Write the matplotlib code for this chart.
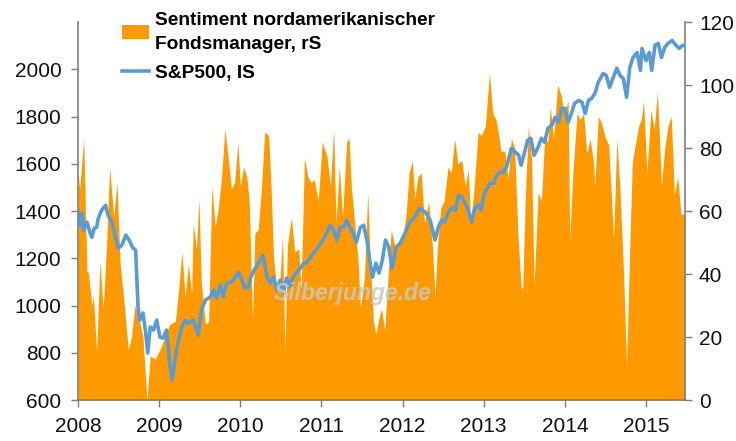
import matplotlib
matplotlib.use("Agg")
import matplotlib.pyplot as plt
from matplotlib.patches import Patch
from matplotlib.lines import Line2D

plt.rcParams['font.family'] = ['Liberation Sans', 'DejaVu Sans']

# Sentiment nordamerikanischer Fondsmanager (rechte Skala), Datum als Dezimaljahr
sent_dates = [
    2008.00, 2008.02, 2008.07, 2008.11, 2008.13, 2008.17, 2008.19, 2008.23, 2008.27, 2008.31,
    2008.35, 2008.39, 2008.44, 2008.48, 2008.52, 2008.56, 2008.62, 2008.66, 2008.70, 2008.76,
    2008.80, 2008.85, 2008.89, 2008.95, 2009.01, 2009.07, 2009.13, 2009.20, 2009.24, 2009.28,
    2009.32, 2009.36, 2009.40, 2009.42, 2009.46, 2009.49, 2009.52, 2009.57, 2009.61, 2009.65,
    2009.69, 2009.73, 2009.77, 2009.81, 2009.85, 2009.89, 2009.93, 2009.97, 2010.00, 2010.04,
    2010.08, 2010.11, 2010.15, 2010.18, 2010.22, 2010.26, 2010.30, 2010.35, 2010.38, 2010.41,
    2010.45, 2010.49, 2010.52, 2010.55, 2010.58, 2010.63, 2010.67, 2010.72, 2010.75, 2010.79,
    2010.83, 2010.87, 2010.91, 2010.96, 2011.01, 2011.07, 2011.11, 2011.15, 2011.18, 2011.22,
    2011.26, 2011.31, 2011.34, 2011.37, 2011.41, 2011.45, 2011.48, 2011.53, 2011.57, 2011.60,
    2011.64, 2011.67, 2011.71, 2011.74, 2011.78, 2011.82, 2011.86, 2011.91, 2011.96, 2012.00,
    2012.04, 2012.08, 2012.12, 2012.15, 2012.19, 2012.23, 2012.27, 2012.32, 2012.36, 2012.40,
    2012.43, 2012.47, 2012.51, 2012.56, 2012.60, 2012.64, 2012.68, 2012.73, 2012.77, 2012.81,
    2012.84, 2012.88, 2012.93, 2012.97, 2013.02, 2013.07, 2013.11, 2013.15, 2013.18, 2013.21,
    2013.26, 2013.30, 2013.34, 2013.38, 2013.42, 2013.46, 2013.48, 2013.51, 2013.55, 2013.59,
    2013.62, 2013.67, 2013.71, 2013.75, 2013.79, 2013.82, 2013.86, 2013.91, 2013.95, 2013.99,
    2014.04, 2014.06, 2014.10, 2014.15, 2014.19, 2014.23, 2014.27, 2014.31, 2014.35, 2014.37,
    2014.41, 2014.45, 2014.50, 2014.54, 2014.60, 2014.64, 2014.68, 2014.72, 2014.76, 2014.80,
    2014.83, 2014.86, 2014.91, 2014.94, 2014.97, 2015.01, 2015.06, 2015.10, 2015.14, 2015.19,
    2015.23, 2015.27, 2015.31, 2015.35, 2015.39, 2015.43, 2015.48,
]
sent_vals = [
    73, 67, 83, 41, 40, 30, 33, 15, 44, 29,
    48, 74, 58, 69, 43, 33, 16, 20, 30, 25,
    20, 0, 14, 13, 16, 20, 24, 25, 35, 47,
    33, 43, 34, 56, 48, 64, 37, 24, 25, 68,
    55, 61, 71, 86, 77, 67, 69, 82, 68, 74,
    71, 63, 25, 53, 54, 67, 85, 84, 67, 45,
    35, 39, 52, 16, 49, 58, 47, 48, 35, 77,
    71, 69, 70, 63, 82, 77, 68, 86, 56, 74,
    58, 82, 83, 67, 56, 45, 29, 39, 66, 45,
    25, 21, 26, 29, 22, 39, 54, 48, 50, 52,
    58, 72, 76, 64, 71, 72, 56, 63, 52, 33,
    49, 61, 63, 74, 72, 83, 75, 76, 68, 73,
    56, 67, 85, 84, 87, 104, 91, 89, 85, 79,
    79, 70, 83, 80, 53, 36, 35, 63, 87, 76,
    36, 66, 63, 83, 82, 93, 83, 100, 97, 91,
    95, 51, 73, 91, 89, 91, 78, 83, 76, 68,
    90, 88, 83, 81, 51, 83, 66, 42, 11, 49,
    75, 80, 87, 89, 95, 72, 92, 86, 98, 68,
    80, 87, 90, 65, 71, 59, 59,
]

# S&P 500 (linke Skala)
spx_dates = [
    2008.00, 2008.02, 2008.05, 2008.07, 2008.11, 2008.15, 2008.17, 2008.20, 2008.23, 2008.25,
    2008.29, 2008.34, 2008.37, 2008.42, 2008.46, 2008.50, 2008.54, 2008.59, 2008.63, 2008.67,
    2008.71, 2008.74, 2008.76, 2008.80, 2008.83, 2008.86, 2008.89, 2008.93, 2008.97, 2009.01,
    2009.05, 2009.09, 2009.13, 2009.16, 2009.20, 2009.24, 2009.28, 2009.32, 2009.36, 2009.42,
    2009.48, 2009.52, 2009.57, 2009.63, 2009.67, 2009.71, 2009.75, 2009.79, 2009.83, 2009.89,
    2009.93, 2009.98, 2010.02, 2010.06, 2010.10, 2010.13, 2010.17, 2010.22, 2010.28, 2010.33,
    2010.37, 2010.41, 2010.45, 2010.49, 2010.53, 2010.57, 2010.61, 2010.65, 2010.70, 2010.74,
    2010.78, 2010.82, 2010.86, 2010.90, 2010.96, 2011.00, 2011.04, 2011.11, 2011.15, 2011.19,
    2011.23, 2011.27, 2011.31, 2011.35, 2011.39, 2011.43, 2011.48, 2011.52, 2011.56, 2011.60,
    2011.63, 2011.67, 2011.71, 2011.75, 2011.79, 2011.83, 2011.87, 2011.92, 2011.97, 2012.03,
    2012.09, 2012.15, 2012.21, 2012.28, 2012.34, 2012.40, 2012.44, 2012.48, 2012.52, 2012.56,
    2012.61, 2012.65, 2012.69, 2012.73, 2012.77, 2012.81, 2012.85, 2012.89, 2012.93, 2012.97,
    2013.00, 2013.04, 2013.08, 2013.12, 2013.16, 2013.20, 2013.24, 2013.28, 2013.34, 2013.39,
    2013.43, 2013.46, 2013.50, 2013.54, 2013.58, 2013.62, 2013.67, 2013.71, 2013.75, 2013.79,
    2013.84, 2013.88, 2013.92, 2013.96, 2014.00, 2014.04, 2014.08, 2014.12, 2014.17, 2014.21,
    2014.25, 2014.29, 2014.33, 2014.37, 2014.41, 2014.47, 2014.51, 2014.55, 2014.59, 2014.64,
    2014.68, 2014.72, 2014.76, 2014.80, 2014.84, 2014.89, 2014.93, 2014.95, 2015.00, 2015.04,
    2015.07, 2015.11, 2015.15, 2015.19, 2015.23, 2015.27, 2015.32, 2015.37, 2015.41, 2015.45,
    2015.48,
]
spx_vals = [
    1400, 1340, 1391, 1319, 1353, 1306, 1289, 1327, 1331, 1369,
    1403, 1424, 1382, 1353, 1289, 1243, 1255, 1298, 1277, 1247,
    1234, 993, 938, 968, 896, 799, 909, 896, 938, 866,
    862, 896, 756, 685, 782, 854, 909, 938, 925, 938,
    875, 981, 1023, 1036, 1065, 1031, 1086, 1036, 1095, 1099,
    1116, 1141, 1107, 1073, 1078, 1120, 1150, 1179, 1213, 1120,
    1095, 1120, 1065, 1107, 1052, 1116, 1078, 1120, 1141, 1158,
    1179, 1183, 1200, 1221, 1247, 1268, 1289, 1340, 1319, 1277,
    1331, 1331, 1361, 1331, 1306, 1268, 1331, 1340, 1277, 1179,
    1120, 1179, 1137, 1192, 1277, 1247, 1158, 1247, 1264, 1306,
    1353, 1374, 1412, 1395, 1361, 1277, 1331, 1361, 1353, 1391,
    1416, 1403, 1467, 1458, 1433, 1403, 1353, 1412, 1424, 1403,
    1467, 1496, 1517, 1517, 1551, 1564, 1564, 1585, 1665, 1649,
    1636, 1594, 1644, 1699, 1708, 1636, 1670, 1708, 1691, 1750,
    1763, 1797, 1775, 1835, 1835, 1775, 1813, 1856, 1868, 1860,
    1813, 1868, 1877, 1898, 1944, 1982, 1974, 1923, 1961, 2004,
    1974, 1961, 1881, 2008, 2050, 2071, 1995, 2088, 2037, 2071,
    1995, 2101, 2109, 2050, 2092, 2109, 2122, 2101, 2088, 2101,
    2100,
]

years = [2008, 2009, 2010, 2011, 2012, 2013, 2014, 2015]
left_ticks = [600, 800, 1000, 1200, 1400, 1600, 1800, 2000]
right_ticks = [0, 20, 40, 60, 80, 100, 120]

orange = '#FF9900'
blue = '#5B9BD5'
axis_col = '#7F7F7F'

fig = plt.figure(figsize=(7.36, 4.41), dpi=100)
ax = fig.add_axes([78 / 736, 1 - 400 / 441, (685 - 78) / 736, (400 - 22) / 441])
ax2 = ax.twinx()

ax2.fill_between(sent_dates, sent_vals, 0, color=orange, linewidth=0)
ax2.set_ylim(0, 120)
ax2.set_yticks(right_ticks)

ax.plot(spx_dates, spx_vals, color=blue, linewidth=2.6, solid_joinstyle='round')
ax.set_ylim(600, 2200)
ax.set_yticks(left_ticks)
ax.set_xlim(2008, 2015.48)
ax.set_xticks(years)
ax.set_xticklabels([str(y) for y in years])

# S&P-Linie vor die Fläche legen
ax.set_zorder(ax2.get_zorder() + 1)
ax.patch.set_visible(False)

for a in (ax, ax2):
    a.spines['top'].set_visible(False)
    for s in a.spines.values():
        s.set_color(axis_col)
        s.set_linewidth(1.2)
ax.spines['right'].set_visible(False)
ax2.spines['left'].set_visible(False)
ax2.spines['bottom'].set_visible(False)

ax.tick_params(axis='y', direction='out', length=5, width=1, color=axis_col,
               labelsize=15, pad=7, labelcolor='#111111')
ax.tick_params(axis='x', direction='out', length=5, width=1, color=axis_col,
               labelsize=15, pad=7, labelcolor='#111111')
ax2.tick_params(axis='y', direction='out', length=5, width=1, color=axis_col,
                labelsize=15, pad=5, labelcolor='#111111')

ax.text(0.453, 0.283, 'Silberjunge.de', transform=ax.transAxes, ha='center', va='center',
        fontsize=16.5, fontweight='bold', fontstyle='italic', color='#C8C8C8', alpha=0.85,
        zorder=10)

handles = [Patch(facecolor=orange, edgecolor='none'),
           Line2D([0], [0], color=blue, linewidth=2.6)]
labels = ['Sentiment nordamerikanischer\nFondsmanager, rS', 'S&P500, IS']
leg = fig.legend(handles, labels, loc='upper left', bbox_to_anchor=(114 / 736, 1 - 4 / 441),
                 frameon=False, prop={'weight': 'bold', 'size': 13.8}, handlelength=1.45,
                 handletextpad=0.3, labelspacing=0.6, borderaxespad=0)
for t in leg.get_texts():
    t.set_linespacing(1.55)

fig.savefig('out.png', dpi=100)
